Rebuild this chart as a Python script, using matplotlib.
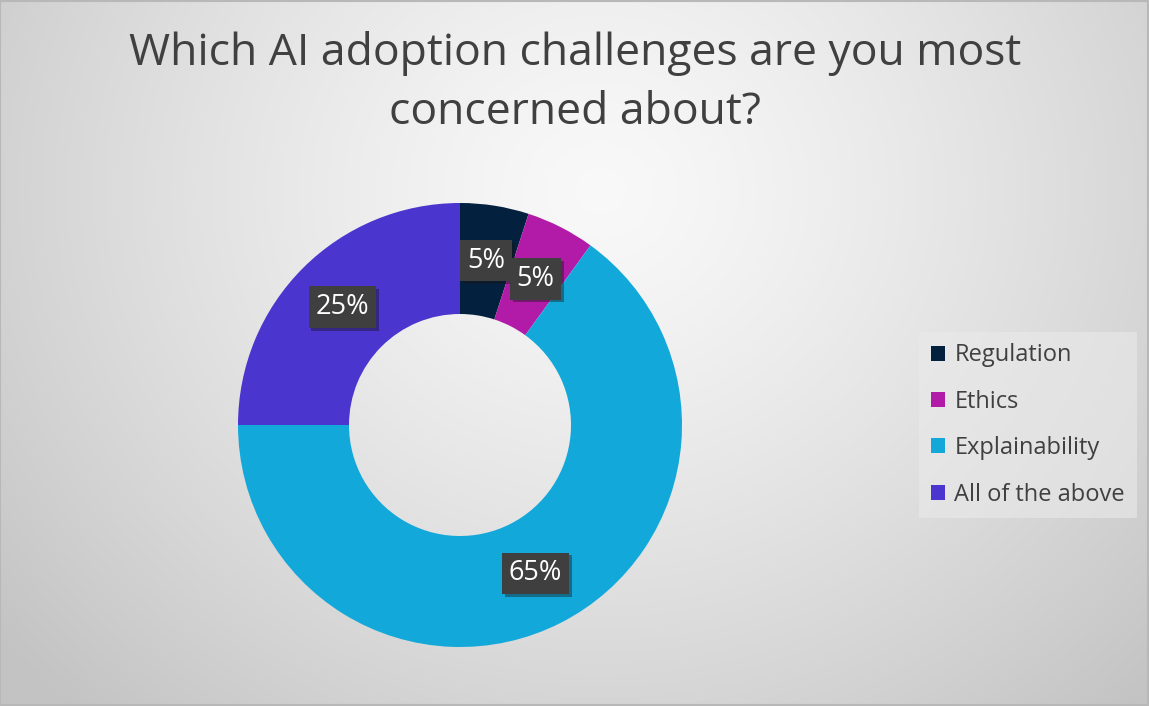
import numpy as np
import matplotlib.pyplot as plt
import matplotlib.patheffects as pe

plt.rcParams['font.family'] = ['Open Sans', 'DejaVu Sans']
plt.rcParams['hatch.color'] = '#575757'
plt.rcParams['hatch.linewidth'] = 1.5

categories = ['Regulation', 'Ethics', 'Explainability', 'All of the above']
shares = [5, 5, 65, 25]
colors = ['#03213F', '#B11BA8', '#12A8DA', '#4A35CE']
title = 'Which AI adoption challenges are you most\nconcerned about?'

W, H = 1149, 706
fig = plt.figure(figsize=(W / 100, H / 100), dpi=100)

# background radial gradient
bg = fig.add_axes([0, 0, 1, 1])
yy, xx = np.mgrid[0:H, 0:W]
d = np.hypot(xx - 600, (yy - 190) * 1.1) / 780.0
d = np.clip(d, 0, 1)
g = 0.975 - 0.21 * d ** 1.3
bg.imshow(np.dstack([g, g, g]), extent=[0, W, H, 0], aspect='auto')
bg.plot([0, W - 1, W - 1, 0, 0], [0.5, 0.5, H - 1, H - 1, 0.5], color='#b8b8b8', lw=1.5)
bg.set_xlim(0, W)
bg.set_ylim(H, 0)
bg.axis('off')

fig.text(575 / W, 1 - 83 / H, title, ha='center', va='center', fontsize=32,
         color='#404040', linespacing=1.45)

# donut: centre (460, 425), outer radius 222 px
r_px = 222
ax = fig.add_axes([(460 - r_px) / W, 1 - (425 + r_px) / H, 2 * r_px / W, 2 * r_px / H])
wedges, _ = ax.pie(shares, colors=colors, startangle=90, counterclock=False,
                   radius=1.0, wedgeprops=dict(width=0.5, edgecolor='none'))
ax.set_xlim(-1, 1)
ax.set_ylim(-1, 1)
ax.set_aspect('equal')
ax.axis('off')

shift = [(0.0, 0.0), (0.0, -0.01), (0.0, 0.0), (0.0, 0.0)]
start = 90.0
for i, (w, s) in enumerate(zip(wedges, shares)):
    mid = np.deg2rad(start - 360 * s / 100 / 2)
    start -= 360 * s / 100
    x = 0.75 * np.cos(mid) + shift[i][0]
    y = 0.75 * np.sin(mid) + shift[i][1]
    ax.text(x, y, f'{s}%', ha='center', va='center', fontsize=19.5, color='white',
            bbox=dict(boxstyle='square,pad=0.25', fc='#3f3f3f', ec='none', hatch='..',
                      path_effects=[pe.SimplePatchShadow(offset=(2, -2), alpha=0.4),
                                    pe.Normal()]))

handles = [plt.Rectangle((0, 0), 1, 1, fc=c, ec='none') for c in colors]
leg = fig.legend(handles, categories, loc='center', bbox_to_anchor=(1028 / W, 1 - 425 / H),
                 frameon=True, fancybox=False, handlelength=0.6,
                 handleheight=0.6, handletextpad=0.4, labelspacing=0.95,
                 borderpad=0.5, prop=dict(size=17), labelcolor='#404040')
leg.get_frame().set_facecolor('#eaeaea')
leg.get_frame().set_alpha(0.6)
leg.get_frame().set_edgecolor('none')

fig.savefig('out.png', dpi=100)
